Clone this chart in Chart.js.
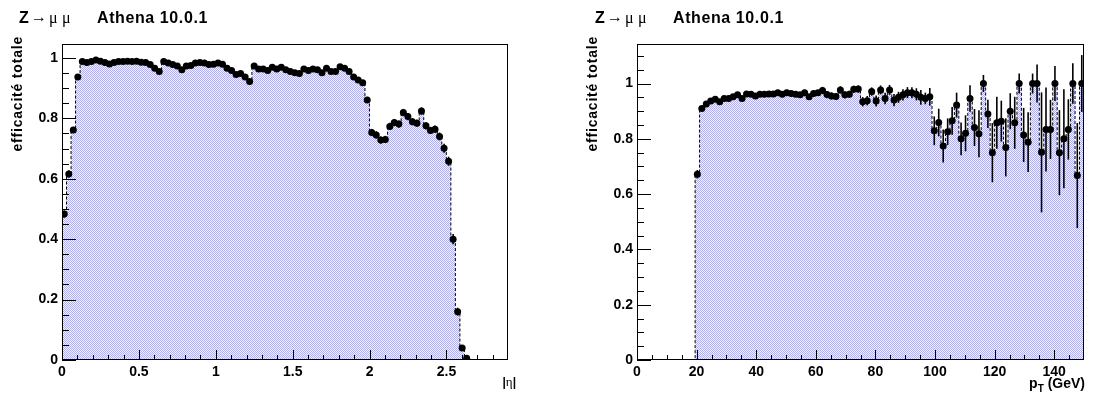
<!DOCTYPE html>
<html>
<head>
<meta charset="utf-8">
<script src="https://cdn.jsdelivr.net/npm/chart.js@4.4.0/dist/chart.umd.min.js"></script>
<style>
  body { margin: 0; background: #fff; width: 1094px; height: 398px; overflow: hidden; position: relative; }
  .panel { position: absolute; top: 0; height: 398px; }
  canvas { display: block; }
</style>
</head>
<body>
<div class="panel" style="left:0;width:546px"><canvas id="etaChart" width="546" height="398"></canvas></div>
<div class="panel" style="left:546px;width:548px"><canvas id="ptChart" width="548" height="398"></canvas></div>
<script>
// Data: efficiency vs |eta| (bins from 0, first 90 bins filled)
const etaBinWidth = 0.0294;
const etaMax = 2.9;
const effEta = [
  0.483, 0.616, 0.761, 0.937, 0.988, 0.985, 0.988, 0.993, 0.989, 0.985,
  0.980, 0.985, 0.988, 0.988, 0.989, 0.988, 0.989, 0.986, 0.985, 0.978,
  0.966, 0.955, 0.988, 0.983, 0.978, 0.973, 0.961, 0.973, 0.975, 0.983,
  0.985, 0.983, 0.978, 0.979, 0.983, 0.979, 0.966, 0.958, 0.945, 0.948,
  0.937, 0.922, 0.973, 0.963, 0.963, 0.958, 0.969, 0.963, 0.969, 0.961,
  0.955, 0.951, 0.948, 0.963, 0.958, 0.963, 0.961, 0.951, 0.966, 0.955,
  0.955, 0.971, 0.966, 0.955, 0.937, 0.927, 0.918, 0.861, 0.753, 0.745,
  0.728, 0.730, 0.773, 0.786, 0.781, 0.819, 0.806, 0.789, 0.784, 0.824,
  0.775, 0.760, 0.764, 0.740, 0.701, 0.658, 0.400, 0.160, 0.040, 0.006
];
const errEta = [
  0.012, 0.012, 0.010, 0.007, 0.004, 0.004, 0.004, 0.004, 0.004, 0.004,
  0.004, 0.004, 0.004, 0.004, 0.004, 0.004, 0.004, 0.004, 0.004, 0.004,
  0.004, 0.004, 0.004, 0.004, 0.004, 0.004, 0.004, 0.004, 0.004, 0.004,
  0.004, 0.004, 0.004, 0.004, 0.004, 0.004, 0.004, 0.004, 0.004, 0.004,
  0.005, 0.006, 0.005, 0.005, 0.005, 0.005, 0.005, 0.005, 0.005, 0.005,
  0.005, 0.005, 0.005, 0.005, 0.005, 0.005, 0.005, 0.005, 0.005, 0.005,
  0.005, 0.005, 0.005, 0.005, 0.007, 0.007, 0.007, 0.010, 0.012, 0.012,
  0.012, 0.012, 0.012, 0.012, 0.012, 0.012, 0.012, 0.012, 0.012, 0.012,
  0.012, 0.012, 0.012, 0.013, 0.015, 0.015, 0.017, 0.013, 0.008, 0.004
];
const etaTicks = [0, 0.5, 1, 1.5, 2, 2.5];
const etaEffTicks = [0, 0.2, 0.4, 0.6, 0.8, 1];

// Data: efficiency vs pT (1.5 GeV bins, filled from bin 13)
const ptBinWidth = 1.5;
const ptFirstBin = 13;
const ptMax = 150;
const effPt = [
  0.672, 0.910, 0.926, 0.937, 0.943, 0.934, 0.946, 0.946, 0.952, 0.959,
  0.946, 0.962, 0.961, 0.955, 0.961, 0.961, 0.962, 0.962, 0.967, 0.961,
  0.967, 0.964, 0.961, 0.959, 0.967, 0.952, 0.964, 0.967, 0.975, 0.960,
  0.955, 0.953, 0.977, 0.959, 0.961, 0.979, 0.980, 0.934, 0.938, 0.971,
  0.937, 0.977, 0.946, 0.977, 0.940, 0.950, 0.959, 0.967, 0.967, 0.961,
  0.950, 0.946, 0.952, 0.829, 0.859, 0.774, 0.826, 0.865, 0.922, 0.800,
  0.820, 0.946, 0.841, 0.818, 1.000, 0.890, 0.750, 0.858, 0.864, 0.769,
  0.900, 0.858, 1.000, 0.814, 0.788, 1.000, 1.000, 0.751, 0.834, 0.834,
  1.000, 0.750, 0.800, 0.834, 1.000, 0.667, 1.000
];
const errPt = [
  0.015, 0.008, 0.008, 0.008, 0.008, 0.008, 0.008, 0.008, 0.008, 0.008,
  0.008, 0.008, 0.008, 0.008, 0.008, 0.008, 0.008, 0.008, 0.010, 0.010,
  0.010, 0.010, 0.010, 0.010, 0.010, 0.010, 0.010, 0.010, 0.013, 0.013,
  0.013, 0.013, 0.013, 0.013, 0.013, 0.013, 0.013, 0.017, 0.017, 0.015,
  0.020, 0.016, 0.021, 0.018, 0.022, 0.020, 0.020, 0.020, 0.020, 0.022,
  0.027, 0.021, 0.032, 0.052, 0.050, 0.060, 0.048, 0.050, 0.045, 0.059,
  0.065, 0.048, 0.067, 0.085, 0.031, 0.051, 0.107, 0.094, 0.074, 0.105,
  0.065, 0.094, 0.036, 0.098, 0.108, 0.036, 0.069, 0.217, 0.152, 0.107,
  0.063, 0.154, 0.179, 0.109, 0.073, 0.190, 0.103
];
const ptTicks = [0, 20, 40, 60, 80, 100, 120, 140];
const ptEffTicks = [0, 0.2, 0.4, 0.6, 0.8, 1];

const SANS = '"Liberation Sans", Arial, Helvetica, sans-serif';
const SERIF = '"Liberation Serif", "DejaVu Serif", serif';

// ROOT-like dotted fill
function dotPattern() {
  const c = document.createElement('canvas');
  c.width = 2; c.height = 2;
  const g = c.getContext('2d');
  g.fillStyle = '#f4f4f8';
  g.fillRect(0, 0, 2, 2);
  g.fillStyle = '#b0b0e6';
  g.fillRect(0, 0, 1, 1);
  g.fillRect(1, 1, 1, 1);
  return g.createPattern(c, 'repeat');
}

function histOutline(width, values, firstBin, nBins) {
  const pts = [{ x: 0, y: 0 }];
  for (let b = 0; b < nBins; b++) {
    const k = b - firstBin;
    const v = (k >= 0 && k < values.length) ? values[k] : 0;
    pts.push({ x: b * width, y: v }, { x: (b + 1) * width, y: v });
  }
  pts.push({ x: nBins * width, y: 0 });
  return pts;
}

function binPoints(width, values, firstBin) {
  return values.map((v, k) => ({ x: (firstBin + k + 0.5) * width, y: v }));
}

function spaced(ctx, px) {
  if ('letterSpacing' in ctx) ctx.letterSpacing = px + 'px';
}

// Frame, inner ticks, titles (ROOT style)
const rootDecor = {
  id: 'rootDecor',
  afterDatasetsDraw(chart) {
    const { ctx, chartArea: a, scales: { y } } = chart;
    const ds = chart.data.datasets[0];
    const meta = chart.getDatasetMeta(0);
    ctx.save();
    ctx.beginPath();
    ctx.rect(a.left, a.top, a.right - a.left, a.bottom - a.top);
    ctx.clip();
    ctx.strokeStyle = '#000';
    ctx.lineWidth = 1.6;
    meta.data.forEach((pt, i) => {
      const v = ds.data[i].y, e = ds.errorBars[i];
      ctx.beginPath();
      ctx.moveTo(pt.x, y.getPixelForValue(v + e));
      ctx.lineTo(pt.x, y.getPixelForValue(v - e));
      ctx.stroke();
    });
    ctx.restore();
  },
  afterDraw(chart, args, o) {
    const { ctx, chartArea: a, scales: { x, y } } = chart;
    ctx.save();
    ctx.strokeStyle = '#000';
    ctx.lineWidth = 1;
    ctx.strokeRect(a.left + 0.5, a.top + 0.5, a.right - a.left - 1, a.bottom - a.top - 1);
    // x ticks (pointing up)
    const nx = Math.round(x.max / o.xMinor);
    for (let k = 0; k <= nx; k++) {
      const px = Math.round(x.getPixelForValue(k * o.xMinor)) + 0.5;
      if (px > a.right - 1) continue;
      const len = (k % o.xRatio === 0) ? o.xMajorLen : o.xMajorLen / 2;
      ctx.beginPath();
      ctx.moveTo(px, a.bottom);
      ctx.lineTo(px, a.bottom - len);
      ctx.stroke();
    }
    // y ticks (pointing right)
    const ny = Math.floor(y.max / o.yMinor + 1e-6);
    for (let k = 0; k <= ny; k++) {
      const py = Math.round(y.getPixelForValue(k * o.yMinor)) + 0.5;
      const len = (k % o.yRatio === 0) ? o.yMajorLen : o.yMajorLen / 2;
      ctx.beginPath();
      ctx.moveTo(a.left, py);
      ctx.lineTo(a.left + len, py);
      ctx.stroke();
    }
    ctx.fillStyle = '#000';
    ctx.textBaseline = 'alphabetic';
    // panel title
    const tx = o.titleX;
    ctx.textAlign = 'left';
    ctx.font = 'bold 16px ' + SANS;
    ctx.fillText('Z', tx, 23);
    ctx.font = '16px ' + SERIF;
    ctx.fillText('\u2192', tx + 12, 22);
    ctx.fillText('\u03bc', tx + 30, 23);
    ctx.fillText('\u03bc', tx + 43, 23);
    ctx.font = 'bold 16px ' + SANS;
    spaced(ctx, 0.6);
    ctx.fillText('Athena 10.0.1', tx + 78, 23);
    spaced(ctx, 0);
    // y title
    ctx.save();
    ctx.translate(o.yTitleX, 36);
    ctx.rotate(-Math.PI / 2);
    ctx.textAlign = 'right';
    ctx.font = 'bold 14px ' + SANS;
    spaced(ctx, 0.8);
    ctx.fillText('efficacit\u00e9 totale', 0, 0);
    spaced(ctx, 0);
    ctx.restore();
    // x title
    o.xTitle(ctx, a.right + o.xTitleDx, o.xTitleBase);
    ctx.restore();
  }
};

function etaTitle(ctx, right, base) {
  ctx.textAlign = 'left';
  ctx.font = 'bold 12px ' + SANS;
  const wBar = ctx.measureText('|').width;
  ctx.font = '13px ' + SERIF;
  const wEta = ctx.measureText('\u03b7').width;
  let xx = right - (2 * wBar + wEta);
  ctx.font = 'bold 12px ' + SANS;
  ctx.fillText('|', xx, base);
  xx += wBar;
  ctx.font = '13px ' + SERIF;
  ctx.fillText('\u03b7', xx, base);
  xx += wEta;
  ctx.font = 'bold 12px ' + SANS;
  ctx.fillText('|', xx, base);
}

function ptTitle(ctx, right, base) {
  ctx.textAlign = 'left';
  ctx.font = 'bold 14px ' + SANS;
  const wP = ctx.measureText('p').width;
  const wRest = ctx.measureText(' (GeV)').width;
  ctx.font = 'bold 10px ' + SANS;
  const wT = ctx.measureText('T').width;
  let xx = right - (wP + wT + wRest);
  ctx.font = 'bold 14px ' + SANS;
  ctx.fillText('p', xx, base);
  xx += wP;
  ctx.font = 'bold 10px ' + SANS;
  ctx.fillText('T', xx, base + 4);
  xx += wT;
  ctx.font = 'bold 14px ' + SANS;
  ctx.fillText(' (GeV)', xx, base);
}

function makePanel(canvasId, p) {
  const tickFont = { family: SANS, weight: 'bold', size: 14 };
  return new Chart(document.getElementById(canvasId), {
    type: 'scatter',
    data: {
      datasets: [
        {
          data: p.points,
          errorBars: p.errors,
          pointRadius: 3.5,
          pointHoverRadius: 3.5,
          pointBackgroundColor: '#000',
          pointBorderColor: '#000',
          pointBorderWidth: 0,
          showLine: false,
          order: 0
        },
        {
          data: p.outline,
          showLine: true,
          pointRadius: 0,
          borderColor: '#000',
          borderWidth: 1,
          borderDash: [3, 2],
          tension: 0,
          fill: 'origin',
          backgroundColor: dotPattern(),
          order: 1
        }
      ]
    },
    options: {
      responsive: false,
      animation: false,
      layout: { padding: { top: 44, right: p.padRight, left: 0, bottom: 0 } },
      plugins: {
        legend: { display: false },
        tooltip: { enabled: false },
        rootDecor: p.decor
      },
      scales: {
        x: {
          type: 'linear',
          min: 0,
          max: p.xMax,
          grid: { display: false, drawTicks: false },
          border: { display: false },
          afterBuildTicks: s => { s.ticks = p.xTicks.map(v => ({ value: v })); },
          ticks: { color: '#000', font: tickFont, padding: 4, autoSkip: false, maxRotation: 0, callback: v => String(v) },
          afterFit: s => { s.height = p.xHeight; }
        },
        y: {
          type: 'linear',
          min: 0,
          max: p.yMax,
          grid: { display: false, drawTicks: false },
          border: { display: false },
          afterBuildTicks: s => { s.ticks = p.yTicks.map(v => ({ value: v })); },
          ticks: { color: '#000', font: tickFont, padding: 4, callback: v => String(v) },
          afterFit: s => { s.width = p.yWidth; }
        }
      }
    },
    plugins: [rootDecor]
  });
}

makePanel('etaChart', {
  points: binPoints(etaBinWidth, effEta, 0),
  errors: errEta,
  outline: histOutline(etaBinWidth, effEta, 0, Math.ceil(etaMax / etaBinWidth)),
  xMax: etaMax, yMax: 1.046,
  xTicks: etaTicks, yTicks: etaEffTicks,
  yWidth: 62, xHeight: 38, padRight: 38,
  decor: { xMinor: 0.1, xRatio: 5, xMajorLen: 10, yMinor: 0.05, yRatio: 4, yMajorLen: 14,
           titleX: 19, yTitleX: 22, xTitle: etaTitle, xTitleDx: 8, xTitleBase: 386 }
});

makePanel('ptChart', {
  points: binPoints(ptBinWidth, effPt, ptFirstBin),
  errors: errPt,
  outline: histOutline(ptBinWidth, effPt, ptFirstBin, Math.round(ptMax / ptBinWidth)),
  xMax: ptMax, yMax: 1.143,
  xTicks: ptTicks, yTicks: ptEffTicks,
  yWidth: 91, xHeight: 38, padRight: 10,
  decor: { xMinor: 5, xRatio: 4, xMajorLen: 10, yMinor: 0.05, yRatio: 4, yMajorLen: 14,
           titleX: 49, yTitleX: 51, xTitle: ptTitle, xTitleDx: 1, xTitleBase: 388 }
});
</script>
</body>
</html>
